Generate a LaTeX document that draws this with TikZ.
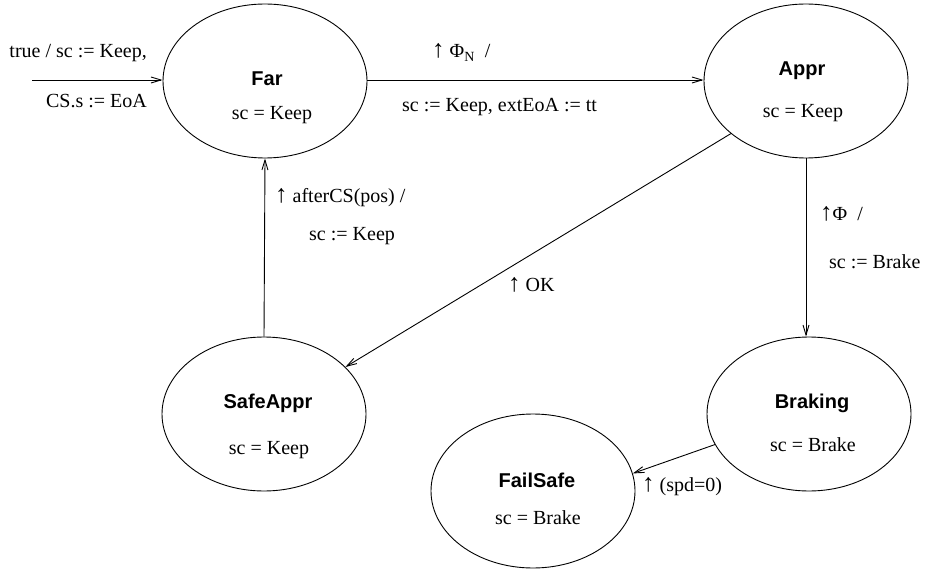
\documentclass[tikz,border=0pt]{standalone}
\usepackage{fontspec}
\setmainfont{Liberation Serif}
\newfontfamily\hv{Liberation Sans}
\usetikzlibrary{shapes.geometric,arrows.meta}
\newcommand{\upa}{{\fontsize{25}{25}\selectfont ↑}}
\tikzset{
  state/.style={draw, ellipse, line width=0.9pt, minimum width=204pt, minimum height=154pt, inner sep=0pt},
  title/.style={anchor=base, inner sep=0pt, font=\hv\bfseries\fontsize{20}{24}\selectfont},
  txt/.style={inner sep=0pt, font=\fontsize{20}{24}\selectfont},
  conn/.style={line width=0.9pt, -{Straight Barb[length=10pt,width=6pt,line width=0.9pt]}}
}
\begin{document}
\begin{tikzpicture}[x=1pt,y=-1pt]
\useasboundingbox (0,0) rectangle (931,572);
% states
\node[state] (far) at (265,81) {};
\node[state] (appr) at (806,81) {};
\node[state] (safe) at (264,414) {};
\node[state] (brak) at (809,414) {};
\node[state] (fail) at (533,491) {};
% state texts
\node[title] (farT) at (267,86) {Far};
\node[txt,anchor=base] (farS) at (272,120) {sc = Keep};
\node[title] (apprT) at (802,76) {Appr};
\node[txt,anchor=base] (apprS) at (803,118) {sc = Keep};
\node[title] (safeT) at (268,408) {SafeAppr};
\node[txt,anchor=base] (safeS) at (269,454) {sc = Keep};
\node[title] (brakT) at (812,408) {Braking};
\node[txt,anchor=base] (brakS) at (813,451) {sc = Brake};
\node[title] (failT) at (537,487) {FailSafe};
\node[txt,anchor=base] (failS) at (538,524) {sc = Brake};
% connectors
\coordinate (start) at (32,80);
\draw[conn] (start) -- (far.west |- start);
\draw[conn] (far.east |- start) -- (appr.west |- start);
\draw[conn] (safe.north) -- (far.south);
\draw[conn] (appr.south) -- (appr.south |- brak.north);
\draw[conn] (appr.215) -- (safe.30);
\draw[conn] (brak.198.6) -- (fail.10.3);
% labels
\node[txt,anchor=base east] (l1a) at (147,58) {true / sc := Keep,};
\node[txt,anchor=base east] (l1b) at (147,108) {CS.s := EoA};
\node[txt,anchor=base west] (l2a) at (432,58) {\upa\ Φ\textsubscript{N}\ \ /};
\node[txt,anchor=base west] (l2b) at (402,112) {sc := Keep, extEoA := tt};
\node[txt,anchor=base west] (l3a) at (275,203) {\upa\ afterCS(pos) /};
\node[txt,anchor=base west] (l3b) at (309,240) {sc := Keep};
\node[txt,anchor=base west] (l4) at (508,291) {\upa\ OK};
\node[txt,anchor=base west] (l5a) at (820,220) {\upa Φ\ \ /};
\node[txt,anchor=base west] (l5b) at (829,268) {sc := Brake};
\node[txt,anchor=base west] (l6) at (642,491) {\upa\ (spd=0)};
\end{tikzpicture}
\end{document}
